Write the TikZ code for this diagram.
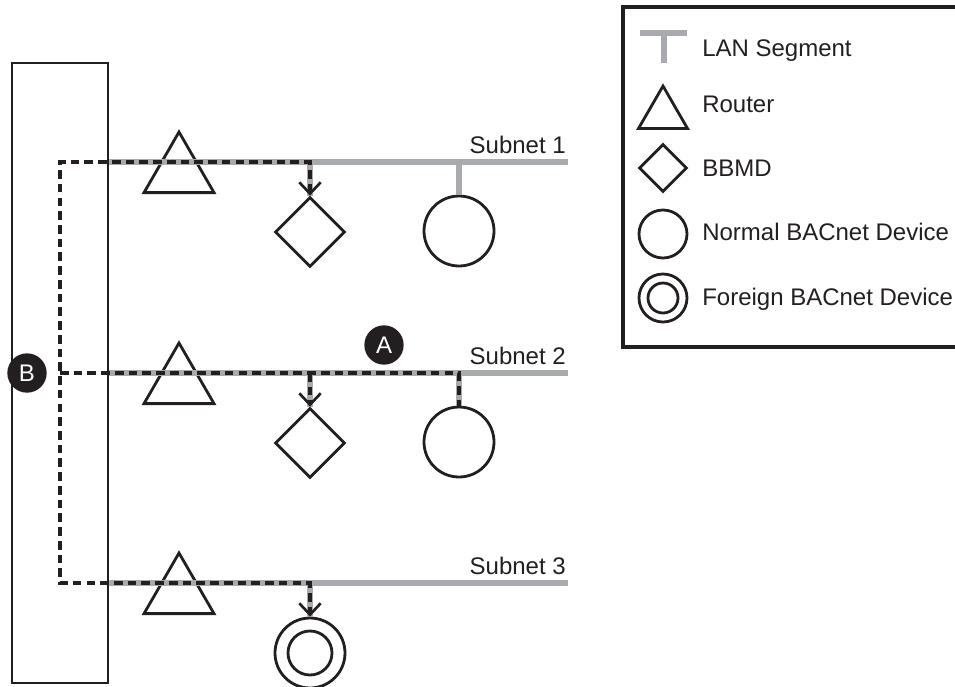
\documentclass[tikz,border=0pt]{standalone}
\usepackage{fontspec}
\setmainfont{Liberation Sans}
\usetikzlibrary{shapes.geometric,arrows.meta,positioning}

\definecolor{lan}{RGB}{168,170,173}
\definecolor{ink}{RGB}{35,31,32}

\tikzset{
  every node/.style={inner sep=0pt, text=ink, font=\fontsize{18}{21}\selectfont},
  lanline/.style={draw=lan, line width=4.2pt},
  link/.style={draw=ink, line width=2.3pt, dash pattern=on 6.5pt off 3.8pt},
  barb/.tip={Straight Barb[length=8.5pt,width=16pt,line width=2pt]},
  router/.style={draw=ink, line width=2.1pt, regular polygon, regular polygon sides=3, minimum size=60.6pt},
  bbmd/.style={draw=ink, line width=2.1pt, diamond, minimum width=52.5pt, minimum height=52.5pt},
  device/.style={draw=ink, line width=2.1pt, circle, minimum size=52.5pt},
  marker/.style={circle, fill=ink, minimum size=29.5pt, text=white},
}

\begin{document}
\begin{tikzpicture}[x=0.75pt, y=-0.75pt]
  \useasboundingbox (0,0) rectangle (955,686);

  % wide area network
  \node[draw=ink, line width=2.1pt, minimum width=72pt, minimum height=465pt] (wan) at (60,373) {};

  % subnets
  \coordinate (c1) at (60,162);
  \coordinate (c2) at (60,373);
  \coordinate (c3) at (60,583);
  \coordinate (s1e) at (568,162);
  \coordinate (s2e) at (568,373);
  \coordinate (s3e) at (568,583);

  \node[router] (rt1) at (179,172.4) {};
  \node[router] (rt2) at (179,383.4) {};
  \node[router] (rt3) at (179,593.4) {};
  \node[bbmd] (bbmd1) at (310,232) {};
  \node[bbmd] (bbmd2) at (310,443) {};
  \node[device] (dev1) at (459,231) {};
  \node[device] (dev2) at (459,442) {};
  \node[device] (fdev) at (310,653) {};
  \node[device, minimum size=33pt] (fdevin) at (fdev.center) {};

  \draw[lanline] (wan.east |- c1) -- (s1e);
  \draw[lanline] (wan.east |- c2) -- (s2e);
  \draw[lanline] (wan.east |- c3) -- (s3e);
  \draw[lanline] (bbmd1.north |- c1) -- (bbmd1.north);
  \draw[lanline] (dev1.north |- c1) -- (dev1.north);
  \draw[lanline] (bbmd2.north |- c2) -- (bbmd2.north);
  \draw[lanline] (dev2.north |- c2) -- (dev2.north);
  \draw[lanline] (fdev.north |- c3) -- (fdev.north);

  \node[anchor=base east] (sub1) at (566,153) {Subnet 1};
  \node[anchor=base east] (sub2) at (566,364) {Subnet 2};
  \node[anchor=base east] (sub3) at (566,574) {Subnet 3};

  % message paths
  \draw[link, barb-barb] (bbmd1.north) |- (c1) -- (c3) -| (fdev.north);
  \draw[link] (c2) -| (dev2.north);
  \draw[link, -barb] (bbmd2.north |- c2) -- (bbmd2.north);

  \node[marker] (lblA) at (384,345) {A};
  \node[marker] (lblB) at (27,373) {B};

  % legend
  \draw[ink, line width=2.3pt] (623,7) rectangle (962,347);
  \draw[lanline] (640,33) -- (687,33);
  \draw[lanline] (664,33) -- (664,63);
  \node[router, minimum size=42.4pt] (keyrt) at (663,114.3) {};
  \node[bbmd, minimum width=36pt, minimum height=36pt] (keybbmd) at (663,168) {};
  \node[device, minimum size=36pt] (keydev) at (663,234) {};
  \node[device, minimum size=36pt] (keyfdev) at (663,298) {};
  \node[device, minimum size=22.5pt] (keyfdevin) at (keyfdev.center) {};

  \node[anchor=base west] at (702,56) {LAN Segment};
  \node[anchor=base west] at (702,112) {Router};
  \node[anchor=base west] at (702,176) {BBMD};
  \node[anchor=base west] at (702,240) {Normal BACnet Device};
  \node[anchor=base west] at (702,305) {Foreign BACnet Device};
\end{tikzpicture}
\end{document}
